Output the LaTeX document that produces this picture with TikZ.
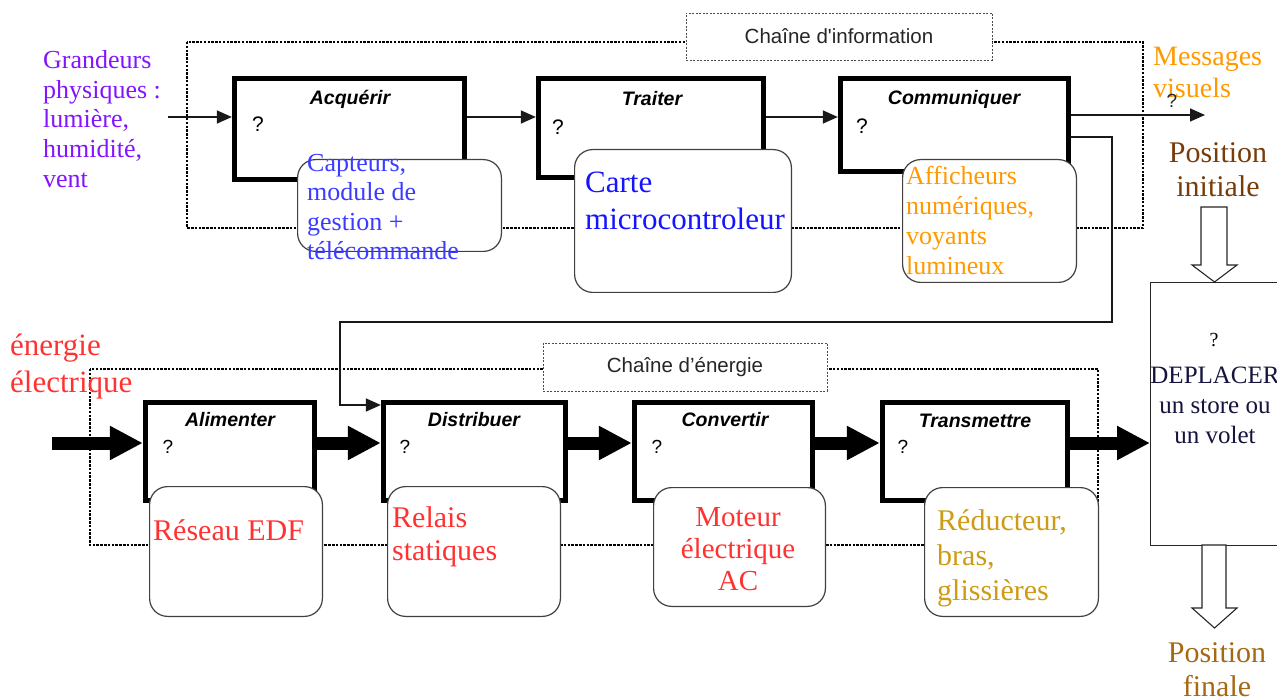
\documentclass[tikz,border=0pt]{standalone}
\usepackage{fontspec}
\setmainfont{Liberation Serif}
\newfontfamily\arialf{Liberation Sans}
\usetikzlibrary{arrows.meta}
\definecolor{cpurple}{RGB}{130,20,255}
\definecolor{cblue}{RGB}{60,60,255}
\definecolor{cbluedark}{RGB}{20,20,255}
\definecolor{corange}{RGB}{255,153,0}
\definecolor{cbrown}{RGB}{120,60,10}
\definecolor{cbrownlt}{RGB}{165,105,20}
\definecolor{cred}{RGB}{255,50,50}
\definecolor{cgold}{RGB}{205,155,20}
\definecolor{cnavy}{RGB}{20,20,60}
\begin{document}
\begin{tikzpicture}[x=1pt,y=-1pt,
  frame/.style={draw=black, line width=2.2pt, dash pattern=on 2.5pt off 1.3pt},
  lblbox/.style={draw=black!70, line width=0.9pt, dash pattern=on 2pt off 1.5pt, fill=white, inner sep=0,
     font=\arialf\fontsize{20.5}{22}\selectfont, text=black!85},
  fblock/.style={draw=black, line width=4.8pt, fill=white, inner sep=0},
  subbox/.style={draw=black!75, line width=1.2pt, rounded corners=18pt, fill=white, inner sep=0},
  thin/.style={draw=black!90, line width=1.4pt},
  thinarr/.style={thin, -{Triangle[length=15pt 0 0,width=13pt 0 0]}},
  thickarr/.style={draw=black, line width=13pt, -{Triangle[length=33pt 0 0,width=32pt 0 0]}},
  hollow/.style={draw=black!85, line width=1.1pt, fill=white},
  ftitle/.style={font=\arialf\bfseries\itshape\fontsize{19.5}{21}\selectfont, inner sep=0},
  qbig/.style={font=\arialf\fontsize{21}{22}\selectfont, inner sep=0},
  qsmall/.style={font=\arialf\fontsize{19}{20}\selectfont, inner sep=0},
  txt/.style={inner sep=0, anchor=north west, align=left},
  ctxt/.style={inner sep=0, anchor=north, align=center}
]
\useasboundingbox (0,0) rectangle (1277,700);

% dashed frames of the two chains
\draw[frame] (187,42) rectangle (1143,228);
\draw[frame] (90,369) rectangle (1098,545);
\node[lblbox, minimum width=306, minimum height=47] (infolbl) at (839,36.5) {Chaîne d'information};
\node[lblbox, minimum width=284, minimum height=48] (nrjlbl) at (685,367) {Chaîne d’énergie};

% function blocks
\node[fblock, minimum width=230.5, minimum height=101.5] (acq) at (349.5,129) {};
\node[fblock, minimum width=225.5, minimum height=99.5] (trait) at (651,128) {};
\node[fblock, minimum width=228.5, minimum height=93.5] (comm) at (954.5,125) {};
\node[fblock, minimum width=169.5, minimum height=98.5] (alim) at (230,451.5) {};
\node[fblock, minimum width=182.5, minimum height=98.5] (distr) at (474.5,451.5) {};
\node[fblock, minimum width=178.5, minimum height=98.5] (conv) at (723.5,451.5) {};
\node[fblock, minimum width=185.5, minimum height=98.5] (trans) at (975,451.5) {};

\node[ftitle] (tacq) at (350,99) {Acquérir};
\node[ftitle] (ttrait) at (652,99) {Traiter};
\node[ftitle] (tcomm) at (954,99) {Communiquer};
\node[ftitle] (talim) at (230,420) {Alimenter};
\node[ftitle] (tdistr) at (474,420) {Distribuer};
\node[ftitle] (tconv) at (725,420) {Convertir};
\node[ftitle] (ttrans) at (975,421) {Transmettre};

\node[qbig] (qacq) at (258,124) {?};
\node[qbig] (qtrait) at (558,127) {?};
\node[qbig] (qcomm) at (862,126) {?};
\node[qsmall] (qalim) at (168,447) {?};
\node[qsmall] (qdistr) at (405,447) {?};
\node[qsmall] (qconv) at (657,447) {?};
\node[qsmall] (qtrans) at (903,447) {?};

% rounded boxes (solutions)
\node[subbox, minimum width=203.8, minimum height=91.8] (capB) at (399.5,205.5) {};
\node[subbox, minimum width=216.8, minimum height=142.8] (carteB) at (683,221) {};
\node[subbox, minimum width=173.8, minimum height=122.8] (affB) at (989.5,221) {};
\node[subbox, minimum width=172.8, minimum height=129.8] (resB) at (236,551.5) {};
\node[subbox, minimum width=172.8, minimum height=129.8] (relB) at (474,551.5) {};
\node[subbox, minimum width=171.8, minimum height=118.8] (motB) at (739.5,547) {};
\node[subbox, minimum width=173.8, minimum height=128.8] (redB) at (1011.5,552) {};

% target box
\node[draw=black!85, line width=1.2pt, fill=white, minimum width=140, minimum height=263,
      anchor=north west, inner sep=0] (depl) at (1150,282) {};

% thin connectors (information)
\coordinate (gin) at (168,117);
\draw[thinarr] (gin) -- (gin -| acq.west);
\draw[thinarr] (acq.east |- 0,117) -- (trait.west |- 0,117);
\draw[thinarr] (trait.east |- 0,117) -- (comm.west |- 0,117);
\coordinate (msgout) at (1205,115);
\draw[thinarr] (comm.east |- msgout) -- (msgout);
\coordinate (k1) at (1112,137);
\coordinate (k2) at (1112,322);
\coordinate (k3) at (340,322);
\coordinate (k4) at (340,405);
\draw[thinarr] (comm.east |- k1) -- (k1) -- (k2) -- (k3) -- (k4) -- (k4 -| distr.west);

% thick connectors (energy)
\coordinate (ein) at (52,443);
\draw[thickarr] (ein) -- (ein -| alim.west);
\draw[thickarr] (alim.east |- ein) -- (distr.west |- ein);
\draw[thickarr] (distr.east |- ein) -- (conv.west |- ein);
\draw[thickarr] (conv.east |- ein) -- (trans.west |- ein);
\draw[thickarr] (trans.east |- ein) -- (depl.west |- ein);

% hollow arrows
\draw[hollow] (1201,207) -- (1227,207) -- (1227,265) -- (1237,265) -- (1214.5,282) -- (1192,265) -- (1201,265) -- cycle;
\draw[hollow] (1202,545) -- (1226,545) -- (1226,608) -- (1237,608) -- (1214.5,628) -- (1192,608) -- (1202,608) -- cycle;

% texts
\node[txt, text=cpurple, font=\fontsize{26}{29.7}\selectfont] (grand) at (43,50.2)
  {Grandeurs\\physiques :\\lumière,\\humidité,\\vent};
\node[txt, text=cblue, font=\fontsize{26}{29.3}\selectfont] (capT) at (307,154.2)
  {Capteurs,\\module de\\gestion +\\télécommande};
\node[txt, text=cbluedark, font=\fontsize{31}{37}\selectfont] (carteT) at (585,172)
  {Carte\\microcontroleur};
\node[txt, text=corange, font=\fontsize{26}{30}\selectfont] (affT) at (906,166.2)
  {Afficheurs\\numériques,\\voyants\\lumineux};
\node[txt, text=corange, font=\fontsize{28}{32}\selectfont] (msgT) at (1153,46.5)
  {Messages\\visuels};
\node[qsmall, text=black!85] (qmsg) at (1172,101) {?};
\node[ctxt, text=cbrown, font=\fontsize{30}{34}\selectfont] (posi) at (1218,142.5)
  {Position\\initiale};
\node[inner sep=0, font=\fontsize{20}{22}\selectfont] (qdepl) at (1214,340) {?};
\node[ctxt, text=cnavy, font=\fontsize{25}{30}\selectfont] (deplT) at (1215,366.5)
  {DEPLACER\\un store ou\\un volet};
\node[ctxt, text=cbrownlt, font=\fontsize{30}{34}\selectfont] (posf) at (1217,642.5)
  {Position\\finale};
\node[txt, text=cred, font=\fontsize{31}{37}\selectfont] (nrjT) at (10,333.8)
  {énergie\\électrique};
\node[inner sep=0, anchor=base west, text=cred, font=\fontsize{30}{34}\selectfont] (resT) at (153,540)
  {Réseau EDF};
\node[txt, text=cred, font=\fontsize{30}{33}\selectfont] (relT) at (392,506.5)
  {Relais\\statiques};
\node[ctxt, text=cred, font=\fontsize{29}{32}\selectfont] (motT) at (738,507.8)
  {Moteur\\électrique\\AC};
\node[txt, text=cgold, font=\fontsize{30}{35}\selectfont] (redT) at (937,509.5)
  {Réducteur,\\bras,\\glissières};
\end{tikzpicture}
\end{document}
